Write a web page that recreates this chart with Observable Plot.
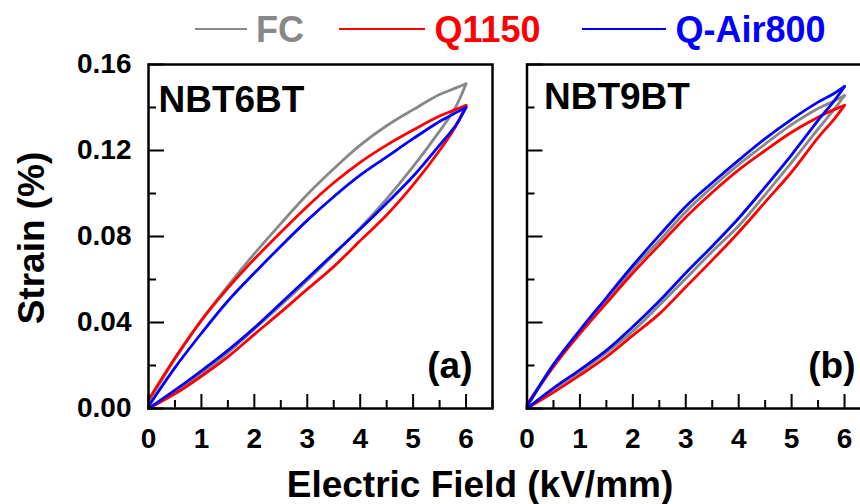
<!DOCTYPE html>
<html><head><meta charset="utf-8">
<script src="https://cdn.jsdelivr.net/npm/d3@7"></script>
<script src="https://cdn.jsdelivr.net/npm/@observablehq/plot@0.6"></script>
<style>
body{margin:0;background:#fff;}
#wrap{position:relative;width:860px;height:504px;overflow:hidden;background:#fff;font-family:"Liberation Sans",Arial,sans-serif;font-weight:bold;}
.abs{position:absolute;white-space:nowrap;line-height:1;}
</style></head><body><div id="wrap"></div>
<script>
// ---- data ----
const FIELD = [0, 0.5, 1, 1.5, 2, 2.5, 3, 3.5, 4, 4.5, 5, 5.5, 5.8, 6];
const SERIES = ["FC", "Q1150", "Q-Air800"];
const COLORS = ["#888888", "#ff0000", "#0000ff"];
const PANELS = ["NBT6BT", "NBT9BT"];
const PANEL_TAGS = ["(a)", "(b)"];
const X_TICKS = [0, 1, 2, 3, 4, 5, 6];
const X_MINOR = [0.5, 1.5, 2.5, 3.5, 4.5, 5.5, 6.5];
const Y_TICKS = [0, 0.04, 0.08, 0.12, 0.16];
const Y_MINOR = [0.02, 0.06, 0.10, 0.14];
const X_TITLE = "Electric Field (kV/mm)";
const Y_TITLE = "Strain (%)";

// NBT6BT : rising-field branch (lo) and falling-field branch (up), strain in %
const nbt6_FC_lo    = [0, 0.0075, 0.016, 0.026, 0.037, 0.048, 0.0595, 0.0715, 0.084, 0.0975, 0.1125, 0.129, 0.140, 0.151];
const nbt6_FC_up    = [0.003, 0.023, 0.041, 0.057, 0.072, 0.086, 0.0995, 0.1115, 0.1225, 0.1315, 0.139, 0.146, 0.149, 0.151];
const nbt6_Q1150_lo = [0, 0.0068, 0.015, 0.024, 0.0345, 0.0448, 0.0555, 0.066, 0.078, 0.090, 0.104, 0.120, 0.131, 0.141];
const nbt6_Q1150_up = [0.004, 0.0235, 0.041, 0.056, 0.0695, 0.082, 0.094, 0.105, 0.1145, 0.1225, 0.1295, 0.136, 0.139, 0.141];
const nbt6_QAir_lo  = [0, 0.0085, 0.0175, 0.027, 0.0375, 0.049, 0.0605, 0.072, 0.0835, 0.0955, 0.108, 0.1225, 0.1315, 0.140];
const nbt6_QAir_up  = [0.001, 0.019, 0.035, 0.050, 0.063, 0.0755, 0.0875, 0.0985, 0.1085, 0.117, 0.1255, 0.1335, 0.1375, 0.140];

// NBT9BT
const nbt9_FC_lo    = [0, 0.009, 0.017, 0.026, 0.036, 0.048, 0.0605, 0.073, 0.085, 0.0995, 0.1145, 0.130, 0.139, 0.1456];
const nbt9_FC_up    = [0.001, 0.0195, 0.0355, 0.050, 0.065, 0.078, 0.0915, 0.103, 0.1135, 0.123, 0.132, 0.1395, 0.143, 0.1456];
const nbt9_Q1150_lo = [0, 0.0075, 0.0155, 0.024, 0.034, 0.044, 0.0565, 0.069, 0.082, 0.096, 0.110, 0.126, 0.1345, 0.141];
const nbt9_Q1150_up = [0.002, 0.0195, 0.0348, 0.049, 0.063, 0.076, 0.089, 0.1005, 0.111, 0.120, 0.1285, 0.1355, 0.139, 0.141];
const nbt9_QAir_lo  = [0, 0.0095, 0.018, 0.027, 0.038, 0.050, 0.063, 0.0755, 0.0885, 0.103, 0.118, 0.134, 0.143, 0.1498];
const nbt9_QAir_up  = [0.001, 0.0205, 0.0365, 0.0515, 0.0665, 0.0805, 0.094, 0.105, 0.1155, 0.1255, 0.1345, 0.1425, 0.1465, 0.1498];

const PANEL_DATA = [
  [[nbt6_FC_lo, nbt6_FC_up], [nbt6_Q1150_lo, nbt6_Q1150_up], [nbt6_QAir_lo, nbt6_QAir_up]],
  [[nbt9_FC_lo, nbt9_FC_up], [nbt9_Q1150_lo, nbt9_Q1150_up], [nbt9_QAir_lo, nbt9_QAir_up]]
];

function rowsFor(p) {
  const rows = [];
  PANEL_DATA[p].forEach(([lo, up], si) => {
    FIELD.forEach((E, i) => rows.push({E, S: lo[i], series: SERIES[si], branch: "lo"}));
    FIELD.forEach((E, i) => rows.push({E, S: up[i], series: SERIES[si], branch: "up"}));
  });
  return rows;
}

// ---- layout ----
const wrap = document.getElementById("wrap");
const FRAME_W = 344, FRAME_H = 344, TOP = 64, H = 460;
const FONT = '"Liberation Sans", Arial, sans-serif';

function panel(p, left, width, marginLeft, withYLabels) {
  const marginRight = width - marginLeft - FRAME_W;
  const marks = [
    Plot.line(rowsFor(p), {x: "E", y: "S", z: d => d.series + d.branch, stroke: "series",
      strokeWidth: 2.8, curve: "catmull-rom"}),
    Plot.tickX(X_TICKS, {x: d => d, insetTop: FRAME_H - 14, stroke: "#000", strokeWidth: 2}),
    Plot.tickX(X_MINOR, {x: d => d, insetTop: FRAME_H - 8, stroke: "#000", strokeWidth: 2}),
    Plot.tickY(Y_TICKS, {y: d => d, insetRight: FRAME_W - 16, stroke: "#000", strokeWidth: 2}),
    Plot.tickY(Y_MINOR, {y: d => d, insetRight: FRAME_W - 8, stroke: "#000", strokeWidth: 2}),
    Plot.axisX({ticks: X_TICKS, tickSize: 0, tickPadding: 20, fontSize: 28, fontWeight: "bold",
      tickFormat: d => String(d), label: null}),
    Plot.frame({stroke: "#000", strokeWidth: 2.5}),
    Plot.text([PANELS[p]], {frameAnchor: "top-left", text: d => d, textAnchor: "start", lineAnchor: "top",
      dx: p === 0 ? 10 : 17, dy: p === 0 ? 21.5 : 18.5, fontSize: 37, fontWeight: "bold", fill: "#000"}),
    Plot.text([PANEL_TAGS[p]], {frameAnchor: "top-right", text: d => d, textAnchor: "end", lineAnchor: "top",
      dx: p === 0 ? -20 : -15.5, dy: 287, fontSize: 37, fontWeight: "bold", fill: "#000"})
  ];
  if (withYLabels) {
    marks.push(Plot.axisY({ticks: Y_TICKS, tickSize: 0, tickPadding: 17, fontSize: 28, fontWeight: "bold",
      tickFormat: d3.format(".2f"), label: null}));
  }
  const chart = Plot.plot({
    width, height: H, marginLeft, marginRight, marginTop: TOP, marginBottom: H - TOP - FRAME_H,
    x: {domain: [0, 6.5]},
    y: {domain: [0, 0.16], axis: withYLabels ? undefined : null},
    color: {domain: SERIES, range: COLORS},
    style: {fontFamily: FONT, fontSize: "28px", fontWeight: "bold", color: "#000", background: "none", overflow: "visible"},
    marks
  });
  chart.style.position = "absolute";
  chart.style.left = left + "px";
  chart.style.top = "0px";
  wrap.appendChild(chart);
}

panel(0, 0, 500, 148, true);
panel(1, 480, 400, 46.5, false);

// ---- legend ----
const legendPos = [
  {x1: 195, x2: 247, tx: 256},
  {x1: 339, x2: 425, tx: 434.5},
  {x1: 582, x2: 666, tx: 675.5}
];
const lg = d3.select(wrap).append("svg").attr("class", "abs")
  .style("left", "0px").style("top", "0px").attr("width", 860).attr("height", 60);
SERIES.forEach((s, i) => {
  lg.append("line").attr("x1", legendPos[i].x1).attr("x2", legendPos[i].x2)
    .attr("y1", 29).attr("y2", 29).attr("stroke", COLORS[i]).attr("stroke-width", 2);
  lg.append("text").attr("x", legendPos[i].tx).attr("y", 42).attr("fill", COLORS[i])
    .style("font", `bold 36px ${FONT}`).text(s);
});

// ---- axis titles ----
const xt = document.createElement("div");
xt.className = "abs";
xt.style.cssText += "left:180px;width:600px;text-align:center;top:466px;font-size:37px;font-weight:bold;";
xt.textContent = X_TITLE;
wrap.appendChild(xt);

const yt = document.createElement("div");
yt.className = "abs";
yt.style.cssText += "left:31px;top:238px;font-size:37px;font-weight:bold;transform:translate(-50%,-50%) rotate(-90deg);";
yt.textContent = Y_TITLE;
wrap.appendChild(yt);
</script>
</body></html>
